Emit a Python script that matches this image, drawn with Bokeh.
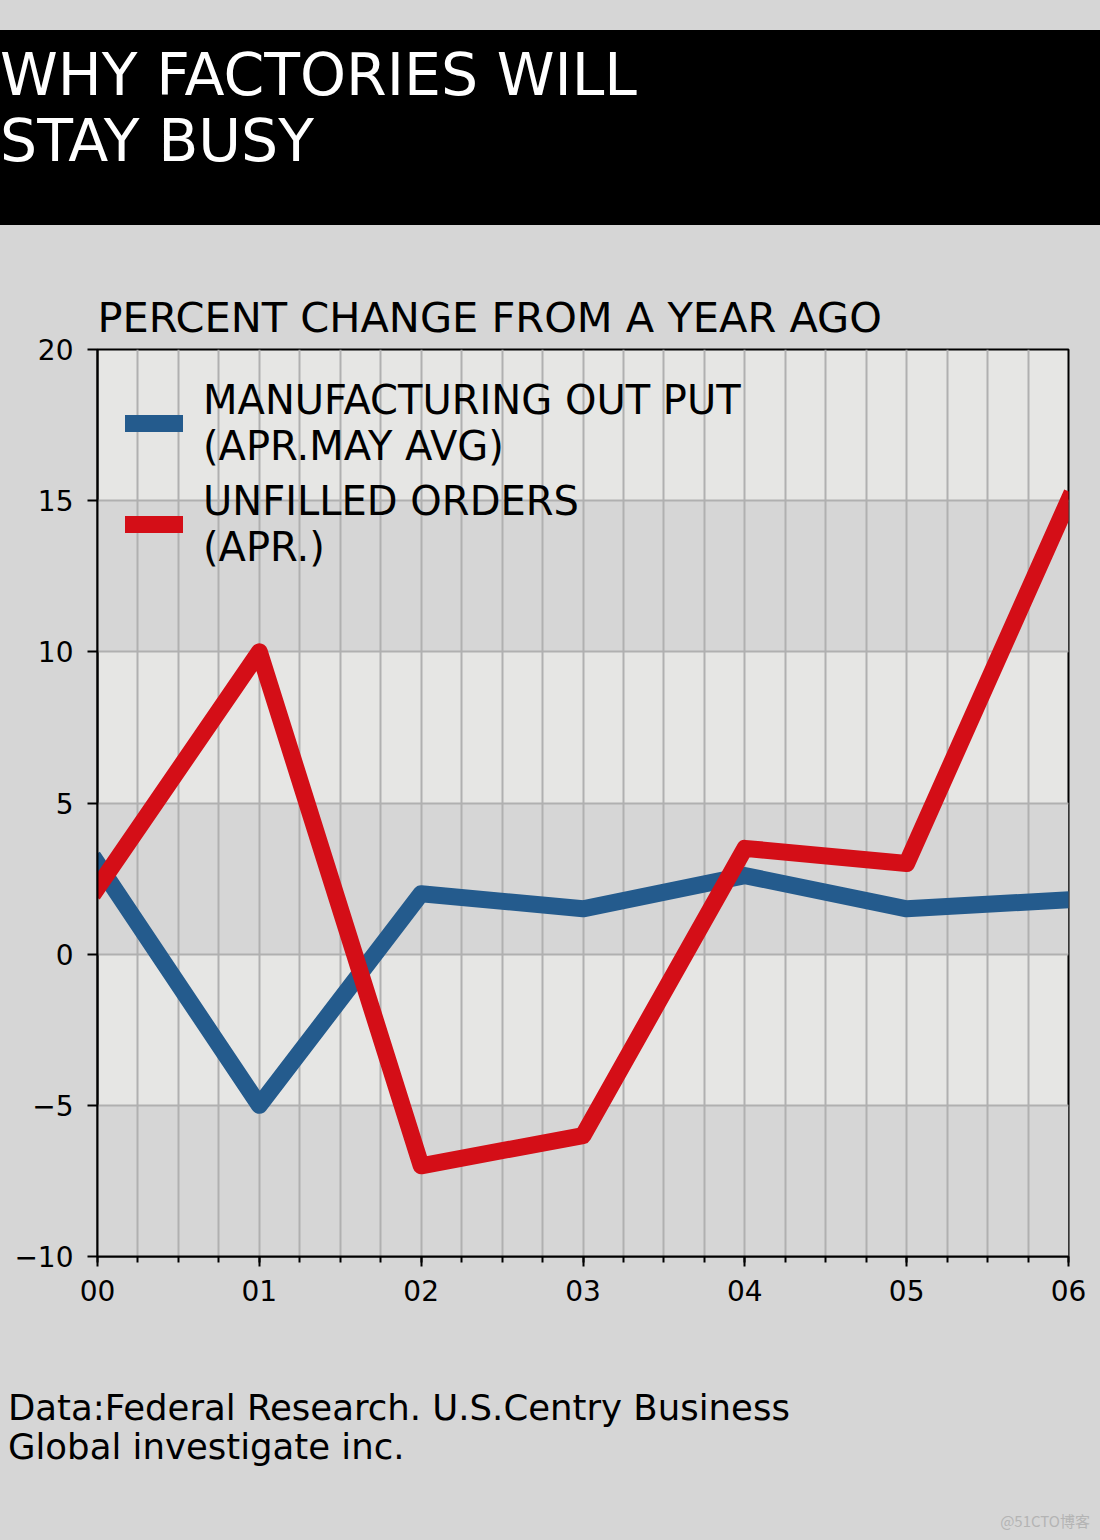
from bokeh.plotting import figure
from bokeh.layouts import column
from bokeh.models import BoxAnnotation, FixedTicker, Legend, LegendItem, Div, Title
from bokeh.embed import file_html
from bokeh.resources import INLINE

# ---- data ----
years = [0, 1, 2, 3, 4, 5, 6]
year_labels = ["00", "01", "02", "03", "04", "05", "06"]
manufacturing = [3.0, -5.0, 2.0, 1.5, 2.6, 1.5, 1.8]
unfilled = [2.2, 10.0, -7.0, -6.0, 3.5, 3.0, 15.0]
y_ticks = [-10, -5, 0, 5, 10, 15, 20]
y_labels = ["\u221210", "\u22125", "0", "5", "10", "15", "20"]
series_names = ["MANUFACTURING OUT PUT\n(APR.MAY AVG)", "UNFILLED ORDERS\n(APR.)"]
title_lines = ["WHY FACTORIES WILL", "STAY BUSY"]
subtitle = "PERCENT CHANGE FROM A YEAR AGO"
source_lines = ["Data:Federal Research. U.S.Centry Business", "Global investigate inc."]
watermark = "@51CTO\u535a\u5ba2"

FONT = "DejaVu Sans"
BG = "#d6d6d6"
LIGHT = "#e6e6e4"
GRID = "#b0b0b0"
BLUE = "#245b8d"
RED = "#d40e17"

WIDTH = 1100
TOP_H, MAIN_H, BOT_H = 240, 1100, 200
FRAME_L, FRAME_R, FRAME_T, FRAME_B = 97, 1068, 349, 1256

# ---- header (HTML) ----
header_html = (
    "<div style=\"width:1100px; height:30px\"></div>"
    "<div style=\"width:1100px; height:195px; box-sizing:border-box; padding-top:12px;"
    " background:#000; color:#fff; font-family:'DejaVu Sans'; font-size:58.5px;"
    " line-height:66px; white-space:nowrap\">"
    + "<br>".join(title_lines) +
    "</div>"
)
top = Div(text=header_html, width=WIDTH, height=TOP_H,
          styles={"background-color": BG, "margin": "0", "padding": "0",
                  "overflow": "hidden"})

# ---- main chart ----
p = figure(width=WIDTH, height=MAIN_H, x_range=(0, 6), y_range=(-10, 20),
           output_backend="svg", toolbar_location=None,
           min_border_left=FRAME_L, min_border_right=WIDTH - FRAME_R,
           min_border_top=FRAME_T - TOP_H,
           min_border_bottom=TOP_H + MAIN_H - FRAME_B,
           background_fill_color=LIGHT, border_fill_color=BG,
           outline_line_color="black", outline_line_width=2)
p.title = Title(text=subtitle, align="left", offset=0, standoff=16,
                text_font=FONT, text_font_size="41.5px", text_font_style="normal",
                text_color="black")

# alternating darker bands beneath the grid
for lo, hi in zip(y_ticks[0::2], y_ticks[1::2]):
    p.add_layout(BoxAnnotation(bottom=lo, top=hi, fill_color=BG, fill_alpha=1.0,
                               line_color=None, level="image"))

quarters = [i * 0.25 for i in range(25)]
p.xgrid.ticker = FixedTicker(ticks=quarters)
p.ygrid.ticker = FixedTicker(ticks=y_ticks)
for g in (p.xgrid, p.ygrid):
    g.grid_line_color = GRID
    g.grid_line_width = 2

p.xaxis.ticker = FixedTicker(ticks=years, minor_ticks=quarters)
p.xaxis.major_label_overrides = dict(zip(years, year_labels))
p.yaxis.ticker = FixedTicker(ticks=y_ticks)
p.yaxis.major_label_overrides = dict(zip(y_ticks, y_labels))
for ax in (p.xaxis, p.yaxis):
    ax.axis_line_width = 2
    ax.axis_line_color = "black"
    ax.major_tick_line_width = 2
    ax.major_tick_line_color = "black"
    ax.major_tick_out = 10
    ax.major_tick_in = 0
    ax.minor_tick_line_width = 2
    ax.minor_tick_line_color = "black"
    ax.minor_tick_out = 6
    ax.minor_tick_in = 0
    ax.major_label_text_font = FONT
    ax.major_label_text_font_size = "28px"
    ax.major_label_text_color = "black"
p.xaxis.major_label_standoff = 13
p.yaxis.major_label_standoff = 14
p.yaxis.minor_tick_line_color = None

r1 = p.line(years, manufacturing, line_color=BLUE, line_width=17,
            line_join="round", line_cap="square")
r2 = p.line(years, unfilled, line_color=RED, line_width=17,
            line_join="round", line_cap="square")

legend = Legend(items=[LegendItem(label=series_names[0], renderers=[r1]),
                       LegendItem(label=series_names[1], renderers=[r2])],
                location="top_left", margin=28, padding=0, spacing=9,
                glyph_width=58, glyph_height=18, label_standoff=20,
                label_text_font=FONT, label_text_font_size="40px",
                label_text_color="black", label_text_line_height=1.05,
                background_fill_alpha=0, border_line_color=None)
p.add_layout(legend, "center")

# ---- footer (HTML) ----
footer_html = (
    "<div style=\"width:1100px; height:48px\"></div>"
    "<div style=\"width:1092px; padding-left:8px; font-family:'DejaVu Sans'; font-size:35.5px;"
    " line-height:39px; color:#000; white-space:nowrap\">"
    + "<br>".join(source_lines) +
    "</div>"
    "<div style=\"width:1090px; margin-top:46px; text-align:right;"
    " font-family:'Noto Sans CJK SC'; font-size:15px; line-height:18px; color:#b4b4b4\">"
    + watermark +
    "</div>"
)
bot = Div(text=footer_html, width=WIDTH, height=BOT_H,
          styles={"background-color": BG, "margin": "0", "padding": "0",
                  "overflow": "hidden"})

layout = column(top, p, bot, spacing=0, styles={"background-color": BG})
open("out.html", "w").write(file_html(layout, INLINE))
